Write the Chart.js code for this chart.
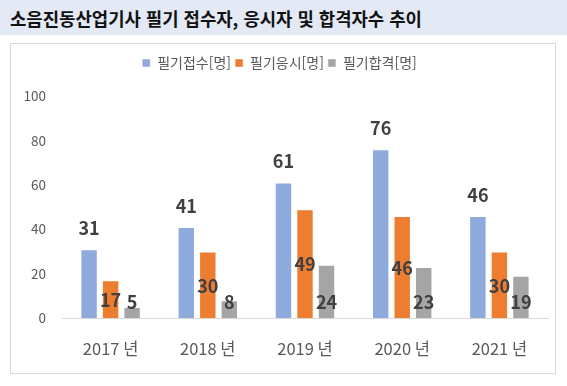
<!DOCTYPE html>
<html lang="ko">
<head>
<meta charset="utf-8">
<script src="https://cdn.jsdelivr.net/npm/chart.js@4.4.1/dist/chart.umd.min.js"></script>
<style>
  html, body { margin: 0; padding: 0; background: #fff; }
  body { width: 567px; height: 386px; position: relative; overflow: hidden; font-family: "Noto Sans CJK KR", "Noto Sans", sans-serif; }
  #title {
    position: absolute; left: 0; top: 0; width: 567px; height: 35px;
    background: #e3eaf6; color: #111;
    font-weight: bold; font-size: 17.8px; line-height: 36px;
    padding-left: 10px; box-sizing: border-box; white-space: nowrap;
  }
  #box {
    position: absolute; left: 10px; top: 43px; width: 546px; height: 331px;
    border: 1px solid #d9d9d9; box-sizing: border-box;
  }
  #chart { display: block; }
</style>
</head>
<body>
<div id="title">소음진동산업기사 필기 접수자, 응시자 및 합격자수 추이</div>
<div id="box"><canvas id="chart" width="544" height="329"></canvas></div>

<script>
// ── 데이터 ──
const years    = ['2017 년', '2018 년', '2019 년', '2020 년', '2021 년'];
const seriesNm = ['필기접수[명]', '필기응시[명]', '필기합격[명]'];
const jeopsu   = [31, 41, 61, 76, 46];
const eungsi   = [17, 30, 49, 46, 30];
const hapgyeok = [5, 8, 24, 23, 19];
const yTicks   = [0, 20, 40, 60, 80, 100];

const COLORS = ['#8faadc', '#ed7d31', '#a5a5a5'];
const FONT = '"Noto Sans CJK KR", "Noto Sans", sans-serif';

// ── 범례 아래 여백 늘리기 ──
const legendGap = {
  id: 'legendGap',
  beforeInit(chart) {
    const fit = chart.legend.fit;
    chart.legend.fit = function () {
      fit.call(this);
      this.height += 16;
    };
  }
};

// ── 데이터 레이블 (막대 위 / 가운데 / 아래) ──
const labelPlugin = {
  id: 'barLabels',
  afterDatasetsDraw(chart) {
    const ctx = chart.ctx;
    ctx.save();
    ctx.font = `bold 18px ${FONT}`;
    ctx.fillStyle = '#404040';
    ctx.textAlign = 'center';
    ctx.textBaseline = 'middle';
    chart.data.datasets.forEach((ds, i) => {
      const meta = chart.getDatasetMeta(i);
      meta.data.forEach((bar, j) => {
        let y;
        if (i === 0) y = bar.y - 21;
        else if (i === 1) y = (bar.y + bar.base) / 2 + 1;
        else y = bar.base - 16;
        ctx.fillText(ds.data[j], bar.x, y);
      });
    });
    ctx.restore();
  }
};

new Chart(document.getElementById('chart'), {
  type: 'bar',
  data: {
    labels: years,
    datasets: [jeopsu, eungsi, hapgyeok].map((d, i) => ({
      label: seriesNm[i],
      data: d,
      backgroundColor: COLORS[i],
      borderColor: 'rgba(255,255,255,0.45)',
      borderWidth: 1,
      borderSkipped: 'bottom',
      categoryPercentage: 0.664,
      barPercentage: 0.81
    }))
  },
  options: {
    responsive: false,
    animation: false,
    layout: { padding: { left: 0, right: 7, top: 8, bottom: 0 } },
    plugins: {
      legend: {
        position: 'top',
        labels: {
          color: '#595959',
          font: { family: FONT, size: 14 },
          boxWidth: 8,
          boxHeight: 8,
          padding: 4
        }
      },
      tooltip: { enabled: false }
    },
    scales: {
      x: {
        grid: { display: false, drawTicks: false },
        border: { color: '#d9d9d9', width: 1 },
        ticks: { color: '#595959', font: { family: FONT, size: 16.5 }, padding: 21 },
        afterFit: s => { s.height = 55; }
      },
      y: {
        min: 0, max: 100,
        afterBuildTicks: s => { s.ticks = yTicks.map(v => ({ value: v })); },
        grid: { display: false, drawTicks: false },
        border: { display: false },
        ticks: { color: '#595959', font: { family: FONT, size: 13.5 }, padding: 16 },
        afterFit: s => { s.width = 51; }
      }
    }
  },
  plugins: [legendGap, labelPlugin]
});
</script>
</body>
</html>
